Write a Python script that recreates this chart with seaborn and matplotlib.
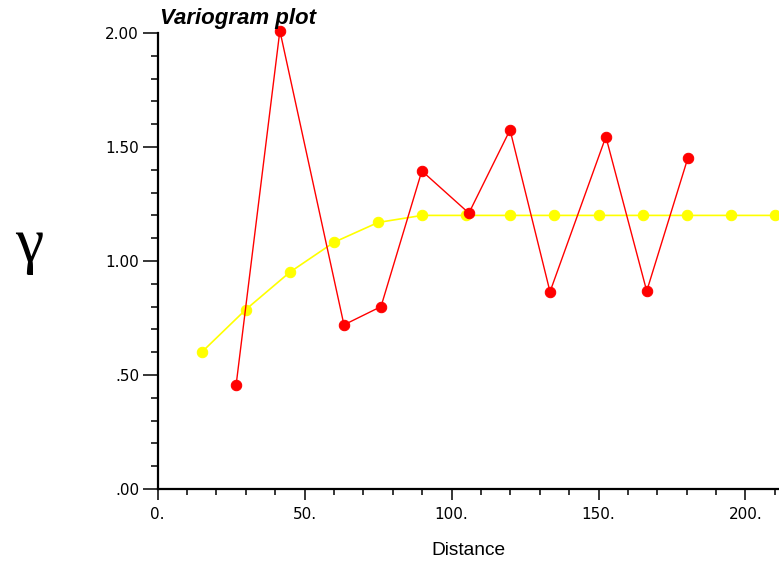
import matplotlib
matplotlib.use("Agg")
import matplotlib.pyplot as plt
import seaborn as sns
import pandas as pd
from matplotlib.ticker import MultipleLocator, FixedLocator, FixedFormatter

# Experimental variogram (red)
exp_distance = [26.7, 41.6, 63.4, 76.0, 89.9, 105.9, 119.9, 133.5, 152.5, 166.4, 180.4]
exp_gamma = [0.455, 2.01, 0.72, 0.80, 1.395, 1.21, 1.575, 0.865, 1.545, 0.868, 1.452]

# Model variogram (yellow)
model_distance = [15, 30, 45, 60, 75, 90, 105, 120, 135, 150, 165, 180, 195, 210]
model_gamma = [0.60, 0.787, 0.951, 1.082, 1.169, 1.20, 1.20, 1.20, 1.20, 1.20, 1.20, 1.20, 1.20, 1.20]

x_ticks = [0, 50, 100, 150, 200]
x_tick_labels = ["0.", "50.", "100.", "150.", "200."]
y_ticks = [0.0, 0.5, 1.0, 1.5, 2.0]
y_tick_labels = [".00", ".50", "1.00", "1.50", "2.00"]

sns.set_style("ticks")
plt.rcParams['font.family'] = ['Liberation Sans', 'DejaVu Sans']

fig = plt.figure(figsize=(7.79, 5.65), dpi=100)
ax = fig.add_axes([0.2023, 0.1345, 0.7977, 0.8071])

model_df = pd.DataFrame({"d": model_distance, "g": model_gamma})
exp_df = pd.DataFrame({"d": exp_distance, "g": exp_gamma})

sns.lineplot(data=model_df, x="d", y="g", ax=ax, color="#ffff00", linewidth=1.2,
             marker="o", markersize=7.5, markeredgecolor="#ffff00",
             markerfacecolor="#ffff00", sort=False)
sns.lineplot(data=exp_df, x="d", y="g", ax=ax, color="#ff0000", linewidth=1.0,
             marker="o", markersize=7.5, markeredgecolor="#ff0000",
             markerfacecolor="#ff0000", clip_on=False, sort=False)

ax.set_xlim(0, 211.4)
ax.set_ylim(0, 2.0)

ax.xaxis.set_major_locator(FixedLocator(x_ticks))
ax.xaxis.set_major_formatter(FixedFormatter(x_tick_labels))
ax.xaxis.set_minor_locator(MultipleLocator(10))
ax.yaxis.set_major_locator(FixedLocator(y_ticks))
ax.yaxis.set_major_formatter(FixedFormatter(y_tick_labels))
ax.yaxis.set_minor_locator(MultipleLocator(0.1))

for s in ["top", "right"]:
    ax.spines[s].set_visible(False)
for s in ["left", "bottom"]:
    ax.spines[s].set_linewidth(1.6)
    ax.spines[s].set_color("black")

ax.tick_params(axis="y", which="major", length=10.8, width=1.1, color="black",
               labelsize=11, labelcolor="black", direction="out", pad=2.5)
ax.tick_params(axis="y", which="minor", length=5, width=1.1, color="black",
               direction="out")
ax.tick_params(axis="x", which="major", length=8, width=1.1, color="black",
               labelsize=11, labelcolor="black", direction="out", pad=5)
ax.tick_params(axis="x", which="minor", length=4.3, width=1.1, color="black",
               direction="out")
for lbl in ax.get_xticklabels() + ax.get_yticklabels():
    lbl.set_family(["DejaVu Sans"])

ax.set_xlabel("Distance", fontsize=13.8, labelpad=14, color="black")
ax.set_ylabel("")
ax.grid(False)

fig.text(0.2054, 0.967, "Variogram plot", fontsize=16, fontweight="bold",
         fontstyle="italic", ha="left", va="center", color="black")
fig.text(0.037, 0.565, "γ", fontsize=46, family=["Liberation Serif", "DejaVu Serif"],
         ha="center", va="center", color="black")

fig.savefig("out.png", dpi=100)
